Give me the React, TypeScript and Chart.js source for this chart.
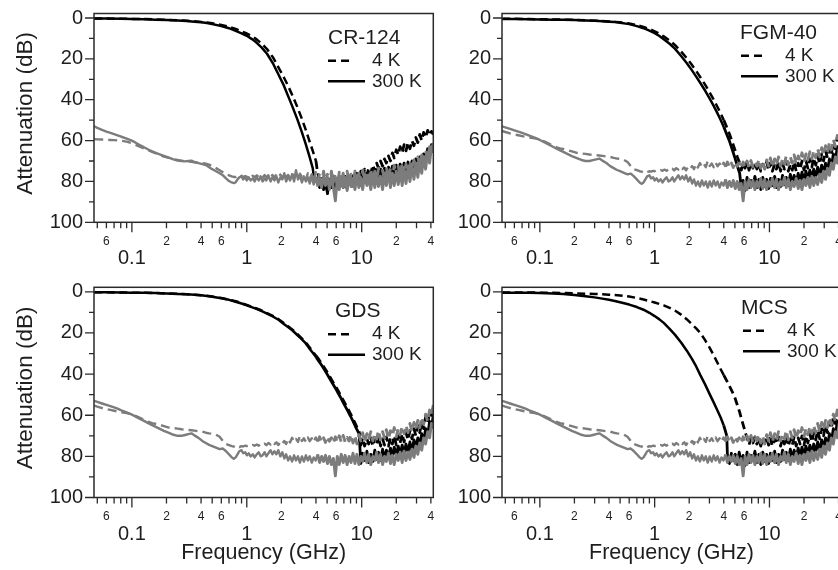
import React, { useEffect, useRef } from "react";
import { Chart, registerables } from "chart.js";

Chart.register(...registerables);

const FONT = '"Liberation Sans", Arial, Helvetica, sans-serif';
const INK = "#1e1e1e";
const BLACK = "#000000";
const GRAY = "#7c7c7c";

// ---------- axis ticks ----------
const xTickValues = [0.05, 0.06, 0.07, 0.08, 0.09, 0.1, 0.2, 0.3, 0.4, 0.5, 0.6, 0.7, 0.8, 0.9, 1, 2, 3, 4, 5, 6, 7, 8, 9, 10, 20, 30, 40];
const xMajorValues = [0.1, 1, 10];
const xMajorLabels = ["0.1", "1", "10"];
const xMinorLabelValues = [0.06, 0.2, 0.4, 0.6, 2, 4, 6, 20, 40];
const xMinorLabels = ["6", "2", "4", "6", "2", "4", "6", "2", "4"];
const yTickValues = [0, 20, 40, 60, 80, 100];
const yMinorTickValues = [10, 30, 50, 70, 90];
const panelNames = ["CR-124", "FGM-40", "GDS", "MCS"];
const seriesNames = ["4 K", "300 K"];

// ---------- frequency grids (GHz) ----------
const grayLowFreq = [0.047, 0.05, 0.055, 0.06, 0.065, 0.07, 0.075, 0.08, 0.09, 0.1, 0.11, 0.12, 0.13, 0.14, 0.15, 0.17, 0.19, 0.21, 0.23, 0.25, 0.27, 0.29, 0.31, 0.33, 0.35, 0.38, 0.41, 0.44, 0.47, 0.5, 0.54, 0.58, 0.62, 0.66, 0.7, 0.74, 0.77];
const noiseFreq = [0.80, 0.83, 0.86, 0.90, 0.93, 0.97, 1.00, 1.04, 1.08, 1.13, 1.17, 1.22, 1.27, 1.32, 1.37, 1.43, 1.48, 1.54, 1.61, 1.67, 1.74, 1.81, 1.88, 1.96, 2.04, 2.12, 2.20, 2.29, 2.38, 2.48, 2.58, 2.68, 2.79, 2.90, 3.02, 3.14, 3.27, 3.40, 3.53, 3.68, 3.82, 3.98, 4.14, 4.30, 4.48, 4.66, 4.84, 5.04, 5.24, 5.45, 5.67, 5.90, 6.13, 6.38, 6.64, 6.90, 7.18, 7.47, 7.77, 8.08, 8.40, 8.74, 9.09, 9.45, 9.83, 10.2, 10.6, 11.1, 11.5, 12.0, 12.5, 13.0, 13.5, 14.0, 14.6, 15.2, 15.8, 16.4, 17.1, 17.8, 18.5, 19.2, 20.0, 20.8, 21.6, 22.5, 23.4, 24.3, 25.3, 26.3, 27.4, 28.5, 29.6, 30.8, 32.0, 33.3, 34.6, 36.0, 37.5, 39.0, 40.5, 42.0];
const TAIL_START = 39; // black tails are given from noiseFreq[39] (3.68 GHz) on
const rollFreq = [0.047, 0.06, 0.08, 0.1, 0.13, 0.16, 0.2, 0.25, 0.3, 0.35, 0.4, 0.45, 0.5, 0.6, 0.7, 0.8, 0.9, 1.0, 1.1, 1.2, 1.35, 1.5, 1.7, 1.9, 2.1, 2.3, 2.5, 2.75, 3.0, 3.25, 3.5, 3.75, 4.0, 4.25, 4.5, 4.75, 5.0, 5.25, 5.5, 5.75, 6.0, 6.25, 6.5, 7.0, 7.5, 8.0, 8.5, 9.0, 9.5];

// ---------- gray (noise floor) traces, dB ----------
const grayA300Low = [53.0, 53.8, 54.8, 55.6, 56.2, 56.8, 57.4, 58.0, 59.0, 60.0, 61.3, 62.5, 63.5, 64.5, 65.3, 66.5, 67.5, 68.3, 69.2, 69.8, 70.0, 70.2, 70.0, 69.8, 70.5, 71.0, 71.5, 72.0, 73.0, 74.0, 75.0, 76.0, 77.0, 78.5, 79.8, 80.5, 80.8];
const grayA4KLow = [59.3, 59.4, 59.5, 59.6, 59.7, 59.8, 59.9, 60.0, 60.5, 61.3, 62.3, 63.2, 64.0, 64.8, 65.5, 66.8, 67.8, 68.5, 69.0, 69.5, 69.8, 70.0, 70.2, 70.4, 70.6, 70.8, 71.0, 71.3, 71.8, 72.5, 73.5, 74.5, 75.5, 76.5, 77.0, 77.5, 77.8];
const grayA300Noise = [80.5, 79, 78, 77.5, 79, 78, 79.5, 78, 79.5, 78.5, 80, 78, 79.5, 77.5, 80, 78.5, 79.5, 77, 80, 78, 79.5, 77.5, 80.5, 78, 79, 76, 80, 77.5, 79.5, 76.5, 80, 74.5, 79, 77, 80.5, 77.5, 80, 78, 81, 77.5, 81.5, 78, 82.5, 78.5, 83, 77.5, 82, 78, 84, 77, 83, 89.5, 79, 84, 77.5, 83, 78, 84.5, 77, 82.5, 78.5, 84, 77, 83, 78, 84, 76.5, 82, 78, 84, 77, 83, 76, 82.5, 77.5, 84, 76.5, 82, 75.5, 83, 76, 82, 75, 81.5, 74.5, 82, 74, 81, 73, 80, 72.5, 79, 71, 78, 70, 76, 68, 74, 66, 71, 63, 66];
const grayA4KNoise = [77.8, 77.3, 77.8, 77.2, 78, 77.3, 77.8, 77, 77.8, 77.2, 78, 77, 77.8, 77.3, 78.2, 76.8, 77.8, 77.2, 78.4, 76.8, 78.2, 76.5, 77.8, 76.6, 78.5, 76, 77.8, 76.8, 78.5, 76, 78.2, 76.5, 78.6, 76.2, 77.8, 76.8, 79, 76, 78.6, 76.5, 80, 75.5, 80.5, 76, 81, 75, 80, 76.5, 81.5, 75, 80.5, 76, 82, 75.5, 81, 76, 82, 75, 81, 76.5, 82.5, 75, 81, 76, 82, 74.5, 80.5, 75.5, 81.5, 74, 80, 75, 81, 73.5, 79.5, 74.5, 80, 73, 79, 73.5, 78.5, 72, 78, 72.5, 77.5, 71, 76.5, 71.5, 76, 70, 75, 69.5, 74, 68, 72.5, 67, 71, 65, 69, 63, 66, 61];
const grayB300Low = [53.0, 53.5, 54.3, 55.0, 55.6, 56.2, 56.8, 57.5, 58.6, 59.7, 60.9, 62.0, 63.0, 64.0, 64.8, 66.3, 67.6, 68.6, 69.5, 70.0, 70.0, 69.6, 69.2, 68.8, 69.8, 71.0, 72.5, 73.5, 74.4, 75.0, 75.8, 76.5, 76.2, 77.5, 79.0, 80.5, 81.2];
const grayB4KLow = [55.3, 55.8, 56.5, 57.0, 57.4, 57.8, 58.2, 58.5, 58.9, 59.5, 60.5, 61.5, 62.5, 63.3, 63.8, 64.5, 65.3, 66.0, 66.3, 66.5, 66.8, 67.0, 67.2, 67.3, 67.5, 67.8, 68.0, 68.5, 68.8, 69.0, 69.5, 70.5, 72.5, 74.0, 74.5, 75.0, 75.2];
const grayB300Noise = [80.5, 79, 77.5, 77, 78.5, 78, 79.5, 78.5, 80, 79, 80.5, 79, 78, 80, 79.5, 78, 80, 78.5, 77, 79, 77.5, 79, 77, 80, 78, 81, 79, 82, 80, 82.5, 79.5, 82, 80, 83, 80, 82.5, 79.5, 82, 80, 83, 80.5, 82, 79, 83, 80, 82.5, 79.5, 83.5, 80, 84, 81, 89.5, 80, 84, 79, 83, 79.5, 84, 80, 83, 78.5, 83.5, 79, 84, 80, 82.5, 78.5, 83, 79, 84, 80, 82, 78, 83, 79, 84, 80, 82.5, 78.5, 83.5, 79.5, 84, 79, 82, 78, 83, 77.5, 82, 78, 81.5, 76.5, 80.5, 75, 79, 73.5, 77, 71, 74, 68, 71, 64, 66];
const grayB4KNoise = [75.5, 75, 75.5, 75, 75.2, 74.8, 75, 74.6, 75, 74.5, 74.8, 74.2, 74.8, 74, 74.5, 73.8, 74.6, 73.5, 74.2, 73, 74, 73.2, 74.5, 72.8, 73.8, 72.5, 74, 71.5, 73.2, 71, 72.8, 71.5, 73, 70, 72.5, 71.2, 73, 70.8, 72.6, 71.2, 73, 70.8, 72.8, 70.5, 73, 71, 73.2, 70.4, 72.6, 71, 73.5, 70.5, 73, 70, 73, 69.8, 73, 70.8, 72.5, 69.5, 73.5, 70, 74, 69.5, 72.5, 68.5, 73, 69, 72, 68, 72.5, 69, 71.5, 67.5, 72, 68, 71, 67, 71.5, 67.5, 70, 66, 70.5, 66.5, 69.5, 65.5, 69, 65, 68.5, 64, 68, 63.5, 67, 62.5, 66, 61, 64.5, 59.5, 63, 57.5, 60, 55];

// ---------- black (filter) roll-off parts, dB on rollFreq ----------
const cr300Roll = [0.3, 0.3, 0.4, 0.5, 0.6, 0.8, 1.0, 1.2, 1.5, 1.8, 2.1, 2.5, 3.0, 3.9, 5.0, 6.3, 7.5, 8.7, 10.2, 11.8, 14.5, 17.5, 22.5, 28, 33, 38.5, 43.5, 49.5, 55.5, 61.5, 67.5, 73.5];
const cr4KRoll = [0.3, 0.3, 0.35, 0.45, 0.55, 0.7, 0.9, 1.1, 1.3, 1.6, 1.9, 2.2, 2.6, 3.4, 4.3, 5.4, 6.5, 7.6, 8.8, 10.2, 12.6, 15.2, 19.5, 24.5, 29, 33.5, 38, 43.5, 49, 54.5, 60, 65, 70];
const fgm300Roll = [0.5, 0.5, 0.6, 0.7, 0.8, 0.9, 1.0, 1.2, 1.4, 1.6, 1.8, 2.0, 2.3, 3.0, 4.0, 5.0, 6.2, 7.4, 8.8, 10.4, 12.6, 15, 18.6, 22, 25.4, 28.7, 31.8, 35.5, 39.2, 42.8, 46.3, 49.8, 53.3, 57, 60.5, 64.5, 68.5, 72.5, 76];
const fgm4KRoll = [0.4, 0.4, 0.5, 0.6, 0.7, 0.8, 0.9, 1.1, 1.3, 1.5, 1.7, 1.9, 2.1, 2.7, 3.5, 4.4, 5.4, 6.5, 7.7, 9.0, 11.0, 13.2, 16.4, 19.6, 22.8, 25.9, 29, 32.6, 36.2, 39.7, 43.2, 46.6, 50, 53.5, 57, 60.8, 64.5, 68, 71];
const gds300Roll = [0.2, 0.25, 0.3, 0.4, 0.5, 0.6, 0.8, 1.0, 1.2, 1.45, 1.7, 2.0, 2.4, 3.1, 3.9, 4.8, 5.7, 6.6, 7.4, 8.2, 9.4, 10.6, 12.1, 13.7, 15.6, 17.2, 18.8, 21.0, 23.0, 25.0, 27.5, 29.6, 31.7, 33.8, 35.8, 37.9, 40, 42, 44, 45.8, 47.5, 49.3, 51, 54.5, 57.5, 60.5, 63.5, 66.5, 69];
const gds4KRoll = [0.2, 0.25, 0.3, 0.4, 0.5, 0.6, 0.8, 1.0, 1.2, 1.4, 1.65, 1.9, 2.3, 3.0, 3.8, 4.6, 5.5, 6.4, 7.2, 8.0, 9.1, 10.3, 11.8, 13.4, 15.2, 16.8, 18.4, 20.5, 22.5, 24.5, 26.8, 29, 31, 33, 35, 37, 39, 41, 43, 44.8, 46.5, 48.2, 50, 53.3, 56.3, 59.3, 62.3, 65.3, 68];
const mcs300Roll = [0.4, 0.45, 0.5, 0.6, 0.8, 1.1, 1.5, 2.1, 2.7, 3.3, 3.9, 4.5, 5.1, 6.2, 7.4, 8.7, 10.2, 11.8, 13.4, 15.1, 18, 20.8, 24.6, 28.5, 32.4, 36.3, 40.5, 45, 49.5, 53.5, 57.3, 61, 65, 70];
const mcs4KRoll = [0.3, 0.3, 0.35, 0.4, 0.5, 0.6, 0.75, 0.9, 1.05, 1.2, 1.4, 1.55, 1.75, 2.3, 3.0, 3.7, 4.5, 5.2, 5.9, 6.6, 7.8, 9.1, 11.1, 13.3, 15.6, 17.8, 20, 23.5, 27, 30.6, 34.2, 37.5, 40.5, 43.3, 46, 48.6, 51.5, 55, 58.5, 62.5, 66, 69.5];

// ---------- black noisy tails, dB on noiseFreq[39..101] ----------
const crBlack300Tail = [75, 77, 80, 78, 83, 79, 84, 80, 86, 79, 83, 78.5, 84, 79.5, 83, 78, 82.5, 79, 83.5, 78, 82, 77.5, 81, 77, 80.5, 76.5, 80, 76, 79.5, 75.5, 79, 75, 78.5, 74.5, 78, 74, 77.5, 73.5, 77, 73, 76.5, 72.5, 76, 72, 75.5, 71.5, 75, 71, 74.5, 70.5, 74, 70, 73, 69, 72, 68, 71, 66.5, 69, 64, 67, 62, 65];
const crBlack4KTail = [73, 75, 74, 76, 79, 77, 82, 79, 85, 80, 83, 78, 84, 79, 82.5, 78, 83, 77.5, 82, 78, 81, 76.5, 80, 76, 79, 75, 78, 74, 77, 73.5, 76, 72, 75, 71, 73.5, 70, 72.5, 69, 71, 67.5, 70, 66, 68.5, 64.5, 67, 63, 66, 62, 65, 61, 64, 60, 62.5, 58.5, 61, 57, 60, 56, 58.5, 55, 57.5, 55.5, 57];
const blackUpperTail = [72, 74, 71, 75, 72, 74.5, 71.5, 75, 72, 74, 71, 74.5, 71.5, 73.5, 70.5, 74.5, 71, 73.5, 70.5, 74, 71, 75, 71.5, 73.5, 70.5, 74.5, 71, 75, 71.5, 74, 70.5, 75, 71, 74, 70, 75, 71.5, 74.5, 70.5, 75, 71, 74, 70, 74.5, 70, 73.5, 69, 73, 68.5, 72, 67.5, 71.5, 66.5, 70, 65, 68.5, 63.5, 66.5, 61, 64, 58.5, 60, 56];
const blackLowerTail = [78, 81, 77.5, 82, 79, 83.5, 78.5, 82, 79, 84, 78, 82.5, 79.5, 84.5, 78, 83, 79.5, 82, 77.5, 83, 79, 84, 78, 82.5, 79, 83.5, 78.5, 82, 77.5, 83, 79, 82.5, 77, 81.5, 78, 82, 76.5, 81, 77, 80.5, 76, 80, 75.5, 79.5, 75, 79, 74.5, 78.5, 74, 78, 73, 77.5, 72, 76, 71, 75, 69, 73, 66.5, 70, 63, 66, 60];

type Pt = { x: number; y: number };

function graySeries(low: number[], noise: number[]): Pt[] {
  const pts: Pt[] = low.map((v, i) => ({ x: grayLowFreq[i], y: v }));
  noise.forEach((v, i) => pts.push({ x: noiseFreq[i], y: v }));
  return pts;
}

function blackSeries(roll: number[], tail: number[]): Pt[] {
  const pts: Pt[] = roll.map((v, i) => ({ x: rollFreq[i], y: v }));
  const lastF = rollFreq[roll.length - 1];
  const start = noiseFreq.findIndex((f) => f > lastF);
  for (let i = start; i < noiseFreq.length; i++) pts.push({ x: noiseFreq[i], y: tail[i - TAIL_START] });
  return pts;
}

type PanelCfg = {
  idx: number;
  left: number;
  top: number;
  width: number;
  height: number;
  pad: { left: number; top: number; right: number; bottom: number };
  yTitle: boolean;
  xTitle: boolean;
  legend: { titleX: number; titleY: number; sampleX: number };
  gray300: [number[], number[]];
  gray4K: [number[], number[]];
  black300: [number[], number[]];
  black4K: [number[], number[]];
};

const PANELS: PanelCfg[] = [
  {
    idx: 0, left: 0, top: 0, width: 440, height: 280,
    pad: { left: 94, top: 13.5, right: 6.7, bottom: 57.7 }, yTitle: true, xTitle: false,
    legend: { titleX: 328, titleY: 38.3, sampleX: 328 },
    gray300: [grayA300Low, grayA300Noise], gray4K: [grayA4KLow, grayA4KNoise],
    black300: [cr300Roll, crBlack300Tail], black4K: [cr4KRoll, crBlack4KTail],
  },
  {
    idx: 1, left: 440, top: 0, width: 410, height: 280,
    pad: { left: 62, top: 13.5, right: 9, bottom: 57.7 }, yTitle: false, xTitle: false,
    legend: { titleX: 740, titleY: 33.3, sampleX: 741 },
    gray300: [grayB300Low, grayB300Noise], gray4K: [grayB4KLow, grayB4KNoise],
    black300: [fgm300Roll, blackLowerTail], black4K: [fgm4KRoll, blackUpperTail],
  },
  {
    idx: 2, left: 0, top: 280, width: 440, height: 290,
    pad: { left: 94, top: 7.3, right: 6.7, bottom: 72.5 }, yTitle: true, xTitle: true,
    legend: { titleX: 335, titleY: 311.7, sampleX: 328 },
    gray300: [grayB300Low, grayB300Noise], gray4K: [grayB4KLow, grayB4KNoise],
    black300: [gds300Roll, blackLowerTail], black4K: [gds4KRoll, blackUpperTail],
  },
  {
    idx: 3, left: 440, top: 280, width: 410, height: 290,
    pad: { left: 62, top: 7.3, right: 9, bottom: 72.5 }, yTitle: false, xTitle: true,
    legend: { titleX: 741, titleY: 308.3, sampleX: 743 },
    gray300: [grayB300Low, grayB300Noise], gray4K: [grayB4KLow, grayB4KNoise],
    black300: [mcs300Roll, blackLowerTail], black4K: [mcs4KRoll, blackUpperTail],
  },
];

function lineDs(data: Pt[], color: string, width: number, noiseWidth: number, dash: number[]) {
  return {
    data,
    borderColor: color,
    borderWidth: width,
    borderDash: dash,
    pointRadius: 0,
    pointHoverRadius: 0,
    tension: 0,
    fill: false,
    borderJoinStyle: "round" as const,
    borderCapStyle: "butt" as const,
    segment: {
      borderWidth: (c: any) => (c.p0.parsed.x >= 4 ? noiseWidth : width),
    },
  };
}

function decorPlugin(cfg: PanelCfg) {
  return {
    id: "decor" + cfg.idx,
    afterDraw(chart: any) {
      const ctx: CanvasRenderingContext2D = chart.ctx;
      const a = chart.chartArea;
      const xs = chart.scales.x;
      const ys = chart.scales.y;
      ctx.save();
      // frame
      ctx.strokeStyle = "#2a2a2a";
      ctx.lineWidth = 1.5;
      ctx.setLineDash([]);
      ctx.strokeRect(a.left, a.top, a.right - a.left, a.bottom - a.top);
      // ticks
      ctx.lineWidth = 1.3;
      ctx.beginPath();
      yTickValues.forEach((v) => {
        const p = ys.getPixelForValue(v);
        ctx.moveTo(a.left - 9, p);
        ctx.lineTo(a.left, p);
      });
      yMinorTickValues.forEach((v) => {
        const p = ys.getPixelForValue(v);
        ctx.moveTo(a.left - 5, p);
        ctx.lineTo(a.left, p);
      });
      xTickValues.forEach((f) => {
        if (f < xs.min || f > xs.max) return;
        const p = xs.getPixelForValue(f);
        const len = xMajorValues.includes(f) ? 10 : 6;
        ctx.moveTo(p, a.bottom);
        ctx.lineTo(p, a.bottom + len);
      });
      ctx.stroke();
      // tick labels
      ctx.fillStyle = INK;
      ctx.textBaseline = "middle";
      ctx.textAlign = "right";
      ctx.font = `20px ${FONT}`;
      yTickValues.forEach((v) => ctx.fillText(String(v), a.left - 11, ys.getPixelForValue(v)));
      ctx.textAlign = "center";
      ctx.font = `12px ${FONT}`;
      xMinorLabelValues.forEach((f, i) => ctx.fillText(xMinorLabels[i], xs.getPixelForValue(f), a.bottom + 19.5));
      ctx.font = `20px ${FONT}`;
      xMajorValues.forEach((f, i) => ctx.fillText(xMajorLabels[i], xs.getPixelForValue(f), a.bottom + 36.5));
      // axis titles
      if (cfg.xTitle) {
        ctx.font = `21.5px ${FONT}`;
        ctx.fillText("Frequency (GHz)", (a.left + a.right) / 2, a.bottom + 55.5);
      }
      if (cfg.yTitle) {
        ctx.save();
        ctx.translate(26 - cfg.left, (a.top + a.bottom) / 2 - 4.5);
        ctx.rotate(-Math.PI / 2);
        ctx.font = `22.5px ${FONT}`;
        ctx.fillText("Attenuation (dB)", 0, 0);
        ctx.restore();
      }
      // legend
      const lg = cfg.legend;
      const tx = lg.titleX - cfg.left;
      const ty = lg.titleY - cfg.top;
      const sx = lg.sampleX - cfg.left;
      ctx.textAlign = "left";
      ctx.font = `21px ${FONT}`;
      ctx.fillText(panelNames[cfg.idx], tx, ty);
      const r1 = ty + 22.5;
      const r2 = ty + 43;
      ctx.strokeStyle = BLACK;
      ctx.lineWidth = 2.4;
      ctx.setLineDash([8, 5]);
      ctx.beginPath();
      ctx.moveTo(sx, r1);
      ctx.lineTo(sx + 21, r1);
      ctx.stroke();
      ctx.setLineDash([]);
      ctx.beginPath();
      ctx.moveTo(sx, r2);
      ctx.lineTo(sx + 37, r2);
      ctx.stroke();
      ctx.font = `19px ${FONT}`;
      ctx.fillText(seriesNames[0], sx + 44, r1);
      ctx.fillText(seriesNames[1], sx + 44, r2);
      ctx.restore();
    },
  };
}

function Panel({ cfg }: { cfg: PanelCfg }) {
  const ref = useRef<HTMLCanvasElement>(null);
  useEffect(() => {
    const canvas = ref.current;
    if (!canvas) return;
    const chart = new Chart(canvas, {
      type: "line",
      data: {
        datasets: [
          lineDs(graySeries(cfg.gray300[0], cfg.gray300[1]), GRAY, 2.4, 2.9, []),
          lineDs(graySeries(cfg.gray4K[0], cfg.gray4K[1]), GRAY, 2.4, 2.9, [9, 5]),
          lineDs(blackSeries(cfg.black300[0], cfg.black300[1]), BLACK, 2.5, 2.8, []),
          lineDs(blackSeries(cfg.black4K[0], cfg.black4K[1]), BLACK, 2.5, 2.8, [8, 4.5]),
        ] as any,
      },
      options: {
        animation: false,
        responsive: false,
        devicePixelRatio: 1,
        events: [],
        layout: { padding: cfg.pad },
        plugins: { legend: { display: false }, tooltip: { enabled: false } },
        scales: {
          x: { type: "logarithmic", min: 0.0468, max: 42, bounds: "data", display: false },
          y: { type: "linear", min: -2.2, max: 100, reverse: true, bounds: "data", display: false },
        },
      } as any,
      plugins: [decorPlugin(cfg)],
    });
    return () => chart.destroy();
  }, [cfg]);
  return (
    <canvas
      ref={ref}
      width={cfg.width}
      height={cfg.height}
      style={{ position: "absolute", left: cfg.left, top: cfg.top, width: cfg.width, height: cfg.height }}
    />
  );
}

export default function App() {
  return (
    <div
      style={{
        position: "absolute",
        left: 0,
        top: 0,
        width: 838,
        height: 570,
        overflow: "hidden",
        background: "#ffffff",
      }}
    >
      {PANELS.map((p) => (
        <Panel key={p.idx} cfg={p} />
      ))}
    </div>
  );
}
